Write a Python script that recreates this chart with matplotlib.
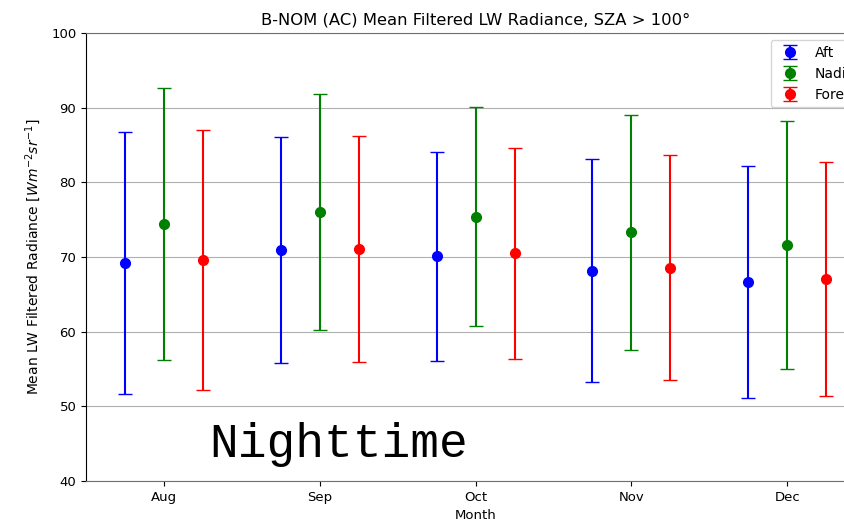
import numpy as np
import matplotlib
matplotlib.use("Agg")
import matplotlib.pyplot as plt

months = ["Aug", "Sep", "Oct", "Nov", "Dec"]
aft_mean = [69.2, 71.0, 70.1, 68.2, 66.7]
aft_err = [17.5, 15.15, 14.0, 14.95, 15.55]
nadir_mean = [74.4, 76.0, 75.4, 73.3, 71.65]
nadir_err = [18.2, 15.8, 14.65, 15.8, 16.6]
fore_mean = [69.6, 71.05, 70.5, 68.6, 67.1]
fore_err = [17.45, 15.15, 14.1, 15.05, 15.7]

fig = plt.figure(figsize=(8.44, 5.22), dpi=100)
ax = fig.add_axes([0.102, 0.0785, 0.923, 0.858])

x = np.arange(len(months))
off = 0.25
kw = dict(fmt='o', capsize=5, markersize=7, zorder=3)
ax.errorbar(x - off, aft_mean, yerr=aft_err, color='blue', label='Aft', **kw)
ax.errorbar(x, nadir_mean, yerr=nadir_err, color='green', label='Nadir', **kw)
ax.errorbar(x + off, fore_mean, yerr=fore_err, color='red', label='Fore', **kw)

ax.set_xticks(x)
ax.set_xticklabels(months)
ax.set_xlim(-0.5, 4.5)
ax.set_ylim(40, 100)
ax.yaxis.grid(True, color='#b0b0b0')
ax.set_axisbelow(True)
for s in ('top', 'bottom'):
    ax.spines[s].set_color('#707070')
ax.tick_params(labelsize=9.5)
ax.set_xlabel("Month", fontsize=9.5)
ax.set_ylabel(r"Mean LW Filtered Radiance [$Wm^{-2}sr^{-1}$]", fontsize=10, labelpad=6)
ax.set_title("B-NOM (AC) Mean Filtered LW Radiance, SZA > 100°", fontsize=11.8)
ax.legend(loc='upper right', fontsize=10)
ax.text(0.29, 43.2, "Nighttime", fontsize=34.5, family='Liberation Mono',
        va='baseline', ha='left')

fig.savefig("out.png", dpi=100)
